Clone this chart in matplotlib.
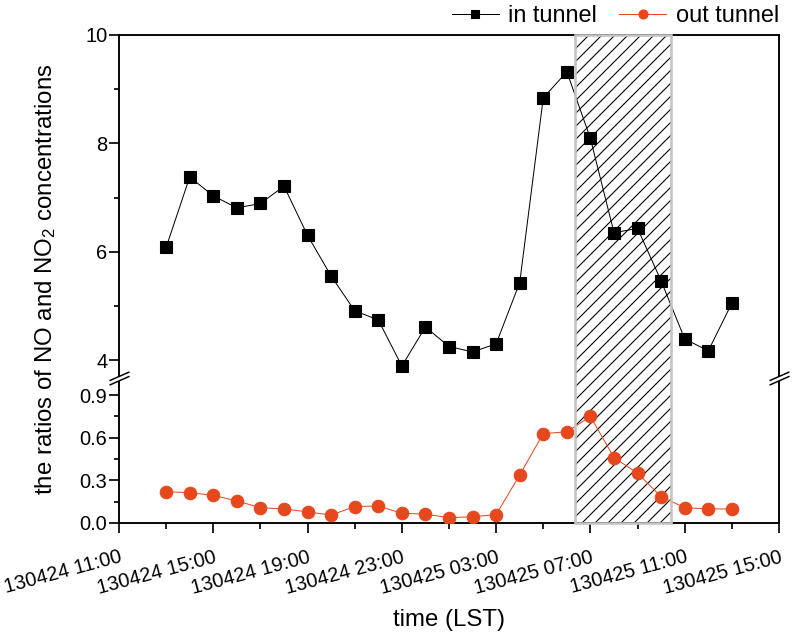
import numpy as np
import matplotlib
matplotlib.use('Agg')
import matplotlib.pyplot as plt
import matplotlib.dates as mdates
from matplotlib.path import Path
from matplotlib.ticker import FixedLocator, FixedFormatter
from datetime import datetime

plt.rcParams['font.family'] = ['Liberation Sans', 'DejaVu Sans']
plt.rcParams['mathtext.fontset'] = 'custom'
plt.rcParams['mathtext.rm'] = 'Liberation Sans'
plt.rcParams['mathtext.it'] = 'Liberation Sans:italic'
plt.rcParams['mathtext.bf'] = 'Liberation Sans:bold'
plt.rcParams['hatch.linewidth'] = 1.0

# ---------------- data ----------------
time_labels = [
    '130424 13:00', '130424 14:00', '130424 15:00', '130424 16:00', '130424 17:00',
    '130424 18:00', '130424 19:00', '130424 20:00', '130424 21:00', '130424 22:00',
    '130424 23:00', '130425 00:00', '130425 01:00', '130425 02:00', '130425 03:00',
    '130425 04:00', '130425 05:00', '130425 06:00', '130425 07:00', '130425 08:00',
    '130425 09:00', '130425 10:00', '130425 11:00', '130425 12:00', '130425 13:00',
]
in_tunnel = [6.08, 7.38, 7.03, 6.81, 6.89, 7.21, 6.30, 5.55, 4.91, 4.74,
             3.89, 4.61, 4.25, 4.15, 4.30, 5.43, 8.84, 9.32, 8.09, 6.35,
             6.43, 5.46, 4.39, 4.17, 5.05]
out_tunnel = [0.220, 0.213, 0.195, 0.155, 0.108, 0.099, 0.078, 0.056, 0.115, 0.120,
              0.068, 0.063, 0.037, 0.044, 0.059, 0.338, 0.629, 0.641, 0.749, 0.460,
              0.350, 0.185, 0.108, 0.099, 0.099]
series_names = ['in tunnel', 'out tunnel']

x_range = ['130424 11:00', '130425 15:00']
shade_range = ['130425 06:20', '130425 10:25']

ytick_values = [0.0, 0.3, 0.6, 0.9, 4, 6, 8, 10]
ytick_labels = ['0.0', '0.3', '0.6', '0.9', '4', '6', '8', '10']
yminor_values = [0.15, 0.45, 0.75, 5, 7, 9]
break_low, break_high = 1.02, 3.67
y_limits = (0, 10)

# ---------------- helpers ----------------
DPI = 78

def px(v):
    """pixels -> points at the output dpi"""
    return v * 72.0 / DPI

fmt = '%y%m%d %H:%M'
times = [datetime.strptime(t, fmt) for t in time_labels]
xlim = [datetime.strptime(t, fmt) for t in x_range]
shade = [datetime.strptime(t, fmt) for t in shade_range]

# broken-axis scale (piecewise linear)
k_low, k_high = 142.2, 54.17
xp = np.array([y_limits[0], break_low, break_high, y_limits[1]])
fp = np.array([0.0, break_low * k_low, break_low * k_low + 0.01,
               break_low * k_low + 0.01 + (y_limits[1] - break_high) * k_high])

def fwd(v):
    return np.interp(v, xp, fp)

def inv(u):
    return np.interp(u, fp, xp)

# ---------------- figure ----------------
fig = plt.figure(figsize=(795 / DPI, 636 / DPI), dpi=DPI)
ax = fig.add_axes([119 / 795, 113 / 636, 660 / 795, 488 / 636])
ax.set_yscale('function', functions=(fwd, inv))

red = '#E5481C'
ax.axvspan(mdates.date2num(shade[0]), mdates.date2num(shade[1]),
           facecolor='white', edgecolor='black', linewidth=0, hatch='//', zorder=1)
ax.axvspan(mdates.date2num(shade[0]), mdates.date2num(shade[1]),
           facecolor='none', edgecolor='#C4C4C4', linewidth=px(2.6), zorder=4,
           clip_on=False)

l1, = ax.plot(times, in_tunnel, color='black', linewidth=px(1.0), marker='s',
              markersize=px(12), markerfacecolor='black', markeredgecolor='black',
              zorder=3, label=series_names[0])
l2, = ax.plot(times, out_tunnel, color=red, linewidth=px(1.0), marker='o',
              markersize=px(12.5), markerfacecolor=red, markeredgecolor=red,
              zorder=3, label=series_names[1])

ax.set_xlim(mdates.date2num(xlim[0]), mdates.date2num(xlim[1]))
ax.set_ylim(*y_limits)

ax.xaxis.set_major_locator(mdates.HourLocator(byhour=[3, 7, 11, 15, 19, 23]))
ax.xaxis.set_minor_locator(mdates.HourLocator(byhour=[1, 5, 9, 13, 17, 21]))
ax.xaxis.set_major_formatter(mdates.DateFormatter(fmt))

ax.yaxis.set_major_locator(FixedLocator(ytick_values))
ax.yaxis.set_major_formatter(FixedFormatter(ytick_labels))
ax.yaxis.set_minor_locator(FixedLocator(yminor_values))

for s in ax.spines.values():
    s.set_linewidth(px(1.9))

ax.tick_params(axis='both', which='major', direction='out', length=px(9.5),
               width=px(1.7), labelsize=px(20), top=False, right=False)
ax.tick_params(axis='both', which='minor', direction='out', length=px(5.5),
               width=px(1.7), top=False, right=False)
ax.tick_params(axis='y', which='major', pad=px(2))
ax.tick_params(axis='x', which='major', pad=px(15))
for lab in ax.get_xticklabels():
    lab.set_rotation(15)
    lab.set_ha('right')
    lab.set_va('top')
    lab.set_rotation_mode('anchor')

ax.set_xlabel('time (LST)', fontsize=px(24), labelpad=px(11))
ax.set_ylabel('the ratios of NO and NO$_2$ concentrations', fontsize=px(24),
              labelpad=px(22))

# axis break marks
white_poly = Path([(-1, -0.66), (1, 0.22), (1, 0.66), (-1, -0.22), (-1, -0.66)],
                  [Path.MOVETO, Path.LINETO, Path.LINETO, Path.LINETO, Path.CLOSEPOLY])
slashes = Path([(-1, -0.66), (1, 0.22), (-1, -0.22), (1, 0.66)],
               [Path.MOVETO, Path.LINETO, Path.MOVETO, Path.LINETO])
trans = ax.get_yaxis_transform()
ax.plot([0, 1], [break_low, break_low], transform=trans, linestyle='none',
        marker=white_poly, markersize=px(20), markerfacecolor='white',
        markeredgecolor='none', clip_on=False, zorder=6)
ax.plot([0, 1], [break_low, break_low], transform=trans, linestyle='none',
        marker=slashes, markersize=px(20), markerfacecolor='none',
        markeredgecolor='black', markeredgewidth=px(1.5), clip_on=False, zorder=7)

leg = ax.legend(handles=[l1, l2], loc='lower right', bbox_to_anchor=(1.0, 1.016),
                ncol=2, frameon=False, fontsize=px(23.5), handlelength=2.0,
                handletextpad=0.4, columnspacing=0.95, borderpad=0.0,
                borderaxespad=0.0, markerscale=0.72)

fig.savefig('out.png', dpi=DPI)
